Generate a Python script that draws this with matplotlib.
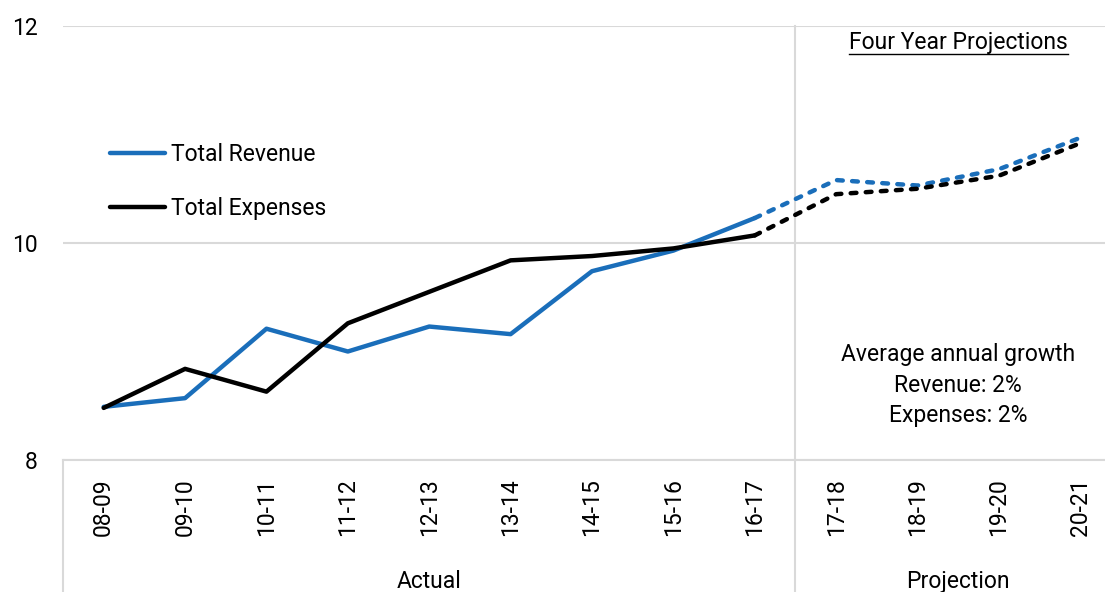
import matplotlib
matplotlib.use("Agg")
import matplotlib.pyplot as plt
from matplotlib.lines import Line2D

plt.rcParams['font.family'] = ['Roboto', 'DejaVu Sans']

categories = ["08-09", "09-10", "10-11", "11-12", "12-13", "13-14", "14-15",
              "15-16", "16-17", "17-18", "18-19", "19-20", "20-21"]
revenue = [8.49, 8.57, 9.21, 9.00, 9.23, 9.16, 9.74, 9.93, 10.23,
           10.58, 10.53, 10.68, 10.97]
expenses = [8.48, 8.84, 8.63, 9.26, 9.55, 9.84, 9.88, 9.95, 10.07,
            10.45, 10.50, 10.62, 10.92]
n_actual = 9
groups = ["Actual", "Projection"]
yticks = [8, 10, 12]

BLUE = '#1a6eba'
GRID = '#d9d9d9'
FS = 16.5
LW = 3.2

fig = plt.figure(figsize=(11.05, 5.92), dpi=100)
W, H = 1105, 592
ax = fig.add_axes([63 / W, (H - 460) / H, 1058 / W, 434 / H])

x = list(range(len(categories)))
xa = x[:n_actual]
ax.plot(xa, revenue[:n_actual], color=BLUE, lw=LW, solid_capstyle='round',
        solid_joinstyle='round', label='Total Revenue', zorder=3)
ax.plot(xa, expenses[:n_actual], color='black', lw=LW, solid_capstyle='round',
        solid_joinstyle='round', label='Total Expenses', zorder=3)
xp = x[n_actual - 1:]
ax.plot(xp, revenue[n_actual - 1:], color=BLUE, lw=LW, dashes=(1.3, 2.1),
        dash_capstyle='round', zorder=3)
ax.plot(xp, expenses[n_actual - 1:], color='black', lw=LW, dashes=(1.3, 2.1),
        dash_capstyle='round', zorder=3)

ax.set_xlim(-0.5, len(categories) - 0.5)
ax.set_ylim(8, 12)
ax.set_yticks(yticks)
ax.set_yticklabels([str(v) for v in yticks])
ax.set_xticks(x)
ax.set_xticklabels(categories, rotation=90, va='top', ha='center')
ax.tick_params(axis='x', length=0, pad=13, labelsize=FS)
ax.tick_params(axis='y', length=0, pad=18, labelsize=FS)

for s in ['left', 'right', 'top']:
    ax.spines[s].set_visible(False)
ax.spines['bottom'].set_color(GRID)
ax.spines['bottom'].set_linewidth(1.5)
ax.yaxis.grid(True, color=GRID, lw=1.5)
ax.set_axisbelow(True)

# separators
trans = ax.get_xaxis_transform()
sep = n_actual - 0.5
ax.plot([sep, sep], [1, -0.31], transform=trans, color=GRID, lw=1.5,
        clip_on=False, zorder=1)
ax.plot([-0.5, -0.5], [0, -0.31], transform=trans, color=GRID, lw=1.5,
        clip_on=False, zorder=1)

# group labels
ax.text((n_actual - 1) / 2, -0.28, groups[0], transform=trans, ha='center',
        va='center', fontsize=FS)
ax.text((n_actual + len(categories) - 1) / 2, -0.28, groups[1], transform=trans,
        ha='center', va='center', fontsize=FS)

# annotations
cx = (n_actual + len(categories) - 1) / 2
t = ax.text(cx, 10.0 + (243 - 42) / 108.5, "Four Year Projections", ha='center',
            va='center', fontsize=FS)
ax.text(cx, 10.0 - (385 - 243) / 108.5, "Average annual growth\nRevenue: 2%\nExpenses: 2%",
        ha='center', va='center', fontsize=FS, linespacing=1.42,
        multialignment='center')

leg = ax.legend(loc='center left', bbox_to_anchor=(110 / W, 1 - 181.5 / H),
                bbox_transform=fig.transFigure, frameon=False, fontsize=FS,
                handlelength=2.4, handletextpad=0.25, labelspacing=1.32,
                borderpad=0, borderaxespad=0)

fig.canvas.draw()
bb = t.get_window_extent()
y_ul = bb.y0 - 0.5
fig.add_artist(Line2D([bb.x0 / W, bb.x1 / W], [y_ul / H, y_ul / H],
                      color='black', lw=1.0, transform=fig.transFigure))

fig.savefig("out.png", dpi=100)
